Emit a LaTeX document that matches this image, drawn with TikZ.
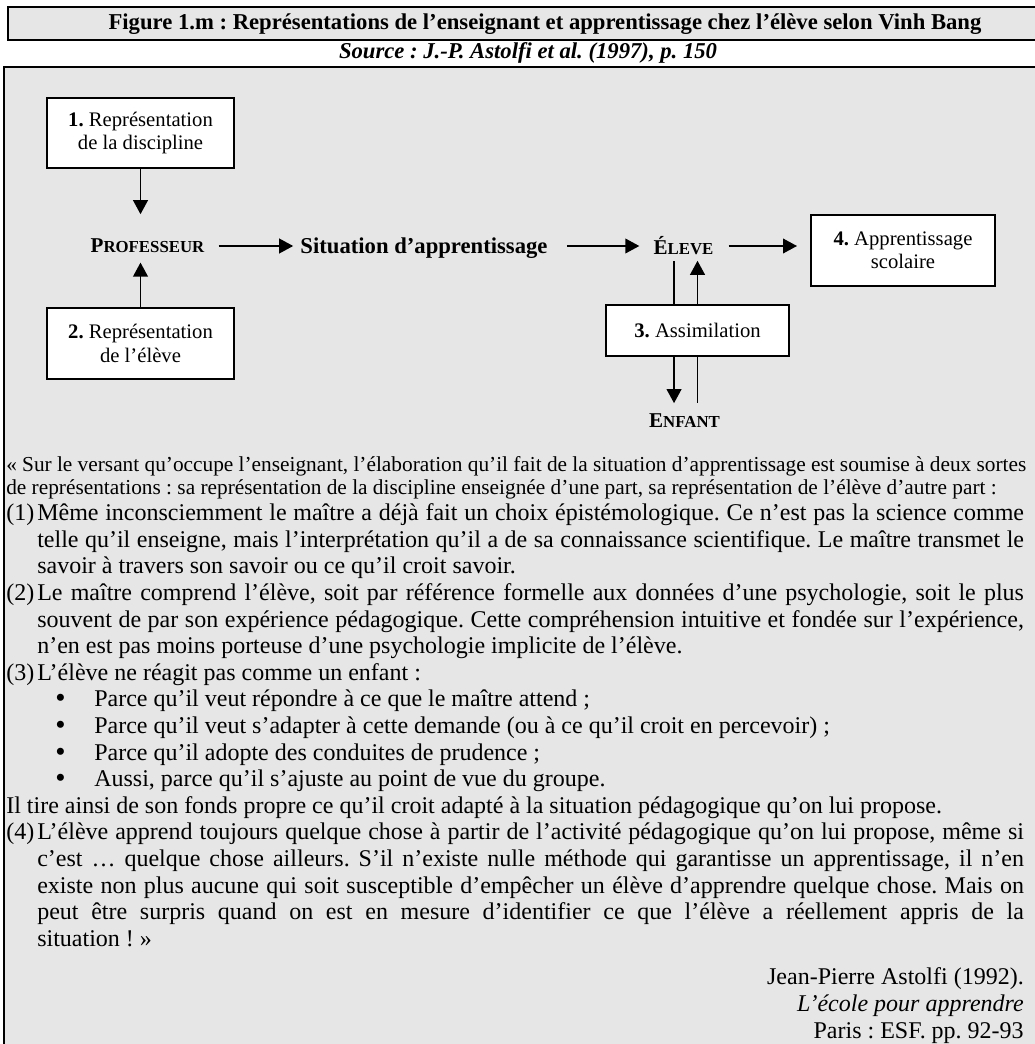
\documentclass[tikz,border=0pt]{standalone}
\usepackage{fontspec}
\setmainfont{Liberation Serif}
\usetikzlibrary{arrows.meta}
\frenchspacing

\definecolor{fondgris}{HTML}{E6E6E6}

% petites capitales imitees (Liberation Serif n'en a pas)
\newcommand{\pcap}[1]{{\fontsize{12.6pt}{14pt}\selectfont #1}}

\tikzset{
    cadre/.style={draw, line width=1.5pt},
    boite/.style={draw, line width=1.5pt, fill=white, align=center, inner sep=0pt,
        font=\fontsize{15.5pt}{17.5pt}\selectfont},
    etiq/.style={inner sep=0pt, font=\bfseries\fontsize{15.8pt}{18pt}\selectfont},
    fleche/.style={line width=1.3pt, -{Triangle[length=10.5pt, width=11pt]}},
    trait/.style={line width=1.3pt},
    ligne/.style={anchor=base west, inner sep=0pt, font=\fontsize{18pt}{20pt}\selectfont},
    lignep/.style={anchor=base west, inner sep=0pt, font=\fontsize{16pt}{18pt}\selectfont},
    puce/.style={anchor=base west, inner sep=0pt, font=\fontsize{22pt}{20pt}\selectfont},
    signe/.style={anchor=base east, inner sep=0pt, font=\fontsize{18pt}{20pt}\selectfont},
}

\begin{document}
\begin{tikzpicture}[x=0.75pt, y=-0.75pt]
    \useasboundingbox (0,0) rectangle (1034,1044);

    % titre et source
    \draw[cadre, fill=fondgris] (8,7) rectangle (1045,40);
    \node[inner sep=0pt, font=\bfseries\fontsize{17pt}{18pt}\selectfont] (titre) at (545,24)
        {Figure 1.m : Représentations de l’enseignant et apprentissage chez l’élève selon Vinh Bang};
    \node[inner sep=0pt, font=\bfseries\itshape\fontsize{17pt}{18pt}\selectfont] (source) at (528,53)
        {Source : J.-P. Astolfi et al. (1997), p. 150};

    % cadre principal
    \draw[cadre, fill=fondgris] (4,67) rectangle (1045,1050);

    % schema
    \node[boite, minimum width=140.25pt, minimum height=52.5pt] (rep1) at (140.5,133)
        {\textbf{1.} Représentation\\de la discipline};
    \node[boite, minimum width=140.25pt, minimum height=53.25pt] (rep2) at (140.5,343.5)
        {\textbf{2.} Représentation\\de l’élève};
    \node[etiq] (prof) at (147.5,246) {P\pcap{ROFESSEUR}};
    \node[etiq, font=\bfseries\fontsize{17pt}{18pt}\selectfont] (situ) at (424,248) {Situation d’apprentissage};
    \node[etiq] (eleve) at (683.5,246) {É\pcap{LEVE}};
    \node[boite, minimum width=138pt, minimum height=53.25pt] (apprent) at (903,250.5)
        {\textbf{4.} Apprentissage\\scolaire};
    \node[boite, minimum width=137.25pt, minimum height=38.25pt] (assim) at (697.5,330.5)
        {\textbf{3.} Assimilation};
    \node[etiq] (enfant) at (684.5,421) {E\pcap{NFANT}};

    \draw[fleche, shorten >=18.4pt] (rep1.south) -- (rep1.south |- prof.north);
    \draw[fleche, shorten >=7pt] (rep2.north) -- (rep2.north |- prof.south);
    \draw[fleche, shorten <=10.5pt, shorten >=5.25pt] (prof.east) -- (prof.east -| situ.west);
    \draw[fleche, shorten <=14.25pt, shorten >=10.5pt] (situ.east |- eleve.west) -- (eleve.west);
    \draw[fleche, shorten <=11.25pt, shorten >=9.75pt] (eleve.east) -- (eleve.east -| apprent.west);
    \draw[trait, shorten >=4pt] ([xshift=-17.6pt]assim.north) -- ([xshift=-17.6pt]assim.north |- eleve.south);
    \draw[fleche, shorten >=4pt] (assim.north) -- (assim.north |- eleve.south);
    \draw[fleche, shorten >=8pt] ([xshift=-17.6pt]assim.south) -- ([xshift=-17.6pt]assim.south |- enfant.north);
    \draw[trait, shorten >=8pt] (assim.south) -- (assim.south |- enfant.north);

    % citation
    \node[lignep] (p1) at (6,471) {\makebox[765pt][s]{« Sur le versant qu’occupe l’enseignant, l’élaboration qu’il fait de la situation d’apprentissage est soumise à deux sortes}};
    \node[lignep] (p2) at (6,494.6) {de représentations : sa représentation de la discipline enseignée d’une part, sa représentation de l’élève d’autre part :};

    \node[ligne] (n1) at (6,520.6) {(1)};
    \node[ligne] (a1) at (37,520.6) {\makebox[740pt][s]{Même inconsciemment le maître a déjà fait un choix épistémologique. Ce n’est pas la science comme}};
    \node[ligne] (a2) at (37,547.2) {\makebox[740pt][s]{telle qu’il enseigne, mais l’interprétation qu’il a de sa connaissance scientifique. Le maître transmet le}};
    \node[ligne] (a3) at (37,573.8) {savoir à travers son savoir ou ce qu’il croit savoir.};
    \node[ligne] (n2) at (6,600.4) {(2)};
    \node[ligne] (b1) at (37,600.4) {\makebox[740pt][s]{Le maître comprend l’élève, soit par référence formelle aux données d’une psychologie, soit le plus}};
    \node[ligne] (b2) at (37,627) {\makebox[740pt][s]{souvent de par son expérience pédagogique. Cette compréhension intuitive et fondée sur l’expérience,}};
    \node[ligne] (b3) at (37,653.6) {n’en est pas moins porteuse d’une psychologie implicite de l’élève.};
    \node[ligne] (n3) at (6,680.2) {(3)};
    \node[ligne] (c1) at (37,680.2) {L’élève ne réagit pas comme un enfant :};
    \node[puce] (d1) at (55,707.8) {•};
    \node[ligne] (e1) at (94,706.8) {Parce qu’il veut répondre à ce que le maître attend ;};
    \node[puce] (d2) at (55,734.4) {•};
    \node[ligne] (e2) at (94,733.4) {Parce qu’il veut s’adapter à cette demande (ou à ce qu’il croit en percevoir) ;};
    \node[puce] (d3) at (55,761) {•};
    \node[ligne] (e3) at (94,760) {Parce qu’il adopte des conduites de prudence ;};
    \node[puce] (d4) at (55,787.6) {•};
    \node[ligne] (e4) at (94,786.6) {Aussi, parce qu’il s’ajuste au point de vue du groupe.};
    \node[ligne] (f1) at (6,813.2) {Il tire ainsi de son fonds propre ce qu’il croit adapté à la situation pédagogique qu’on lui propose.};
    \node[ligne] (n4) at (6,839.8) {(4)};
    \node[ligne] (g1) at (37,839.8) {\makebox[740pt][s]{L’élève apprend toujours quelque chose à partir de l’activité pédagogique qu’on lui propose, même si}};
    \node[ligne] (g2) at (37,866.4) {\makebox[740pt][s]{c’est … quelque chose ailleurs. S’il n’existe nulle méthode qui garantisse un apprentissage, il n’en}};
    \node[ligne] (g3) at (37,893) {\makebox[740pt][s]{existe non plus aucune qui soit susceptible d’empêcher un élève d’apprendre quelque chose. Mais on}};
    \node[ligne] (g4) at (37,919.6) {\makebox[740pt][s]{peut être surpris quand on est en mesure d’identifier ce que l’élève a réellement appris de la}};
    \node[ligne] (g5) at (37,946.2) {situation ! »};

    % reference
    \node[signe] (auteur) at (1024,984.8) {Jean-Pierre Astolfi (1992).};
    \node[signe] (livre) at (1024,1011.4) {\itshape L’école pour apprendre};
    \node[signe] (editeur) at (1024,1038) {Paris : ESF. pp. 92-93};
\end{tikzpicture}
\end{document}
